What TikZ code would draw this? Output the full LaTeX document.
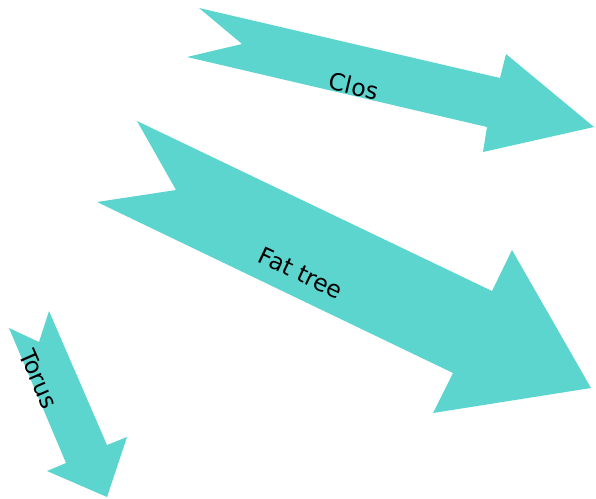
\documentclass[tikz,border=0pt]{standalone}
\usepackage{fontspec}
\setmainfont{DejaVu Sans}
\definecolor{arrowteal}{RGB}{93,213,207}
\begin{document}
\begin{tikzpicture}[x=1pt,y=-1pt,
  bigarrow/.style={fill=arrowteal,draw=none},
  arrowlabel/.style={font=\fontsize{23.5}{26}\selectfont,text=black,inner sep=0pt}]
\useasboundingbox (0,0) rectangle (596,498);
% Clos
\fill[bigarrow] (199,8) -- (500,78) -- (506,54) -- (594,127) -- (483,152)
  -- (487,127) -- (187,57) -- (242,44) -- cycle;
% Fat tree
\fill[bigarrow] (137,121) -- (492,291) -- (512,250) -- (591,388) -- (433,413)
  -- (453,373) -- (97,202) -- (176,190) -- cycle;
% Torus
\fill[bigarrow] (49,311) -- (107,445) -- (127,437) -- (107,497) -- (47,471)
  -- (66,463) -- (9,328) -- (39,342) -- cycle;
\node[arrowlabel,rotate=-13.3] (clos) at (354,86) {Clos};
\node[arrowlabel,rotate=-25.5] (fattree) at (301,273) {Fat tree};
\node[arrowlabel,rotate=-66.3] (torus) at (39,379) {Torus};
\end{tikzpicture}
\end{document}
